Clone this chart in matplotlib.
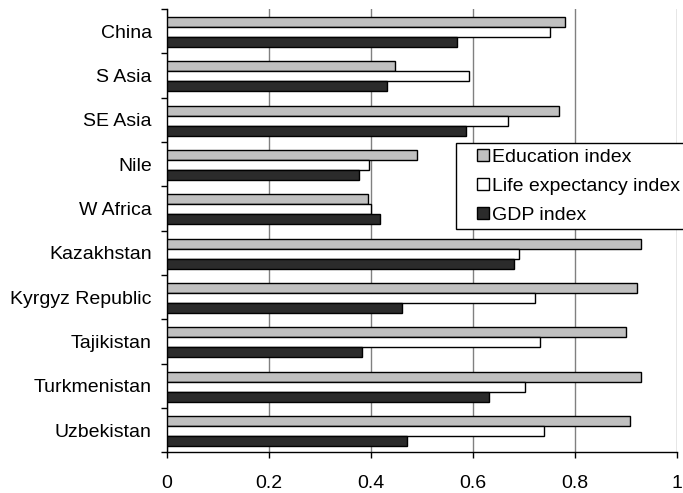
import numpy as np
import matplotlib
matplotlib.use("Agg")
import matplotlib.pyplot as plt
from matplotlib.patches import Rectangle
from matplotlib.legend_handler import HandlerPatch

regions = ["China", "S Asia", "SE Asia", "Nile", "W Africa", "Kazakhstan",
           "Kyrgyz Republic", "Tajikistan", "Turkmenistan", "Uzbekistan"]
education = [0.781, 0.447, 0.769, 0.490, 0.394, 0.930, 0.921, 0.901, 0.930, 0.909]
life_exp = [0.751, 0.592, 0.669, 0.396, 0.400, 0.690, 0.722, 0.731, 0.702, 0.740]
gdp = [0.569, 0.432, 0.587, 0.376, 0.417, 0.681, 0.461, 0.382, 0.631, 0.470]
xticks = [0, 0.2, 0.4, 0.6, 0.8, 1]
xticklabels = ["0", "0.2", "0.4", "0.6", "0.8", "1"]

plt.rcParams["font.family"] = ["Liberation Sans", "DejaVu Sans"]
plt.rcParams["font.size"] = 14


def small_square(legend, orig_handle, xdescent, ydescent, width, height, fontsize):
    # square key pushed to the right end of the handle box
    s = 0.62 * fontsize
    return Rectangle((-xdescent + width - s - 1, -ydescent + (height - s) / 2), s, s)


fig = plt.figure(figsize=(6.83, 4.93), dpi=100)
ax = fig.add_axes([0.2445, 0.0822, 0.7465, 0.8995])

pos = np.arange(len(regions))
h = 0.226
series = [(education, "#c0c0c0", "Education index"),
          (life_exp, "#ffffff", "Life expectancy index"),
          (gdp, "#2b2b2b", "GDP index")]
handles = []
for i, (vals, col, lab) in enumerate(series):
    ax.barh(pos + (i - 1) * h + 0.015, vals, height=h, color=col,
            edgecolor="black", linewidth=1.0, zorder=3)
    handles.append(Rectangle((0, 0), 1, 1, facecolor=col, edgecolor="black",
                             linewidth=1.0, label=lab))

ax.set_xlim(0, 1)
ax.set_ylim(len(regions) - 0.5, -0.5)

ax.set_xticks(xticks)
ax.set_xticklabels(xticklabels)
ax.tick_params(axis="x", direction="out", length=4.5, width=1, pad=11.5)
ax.xaxis.grid(True, color="#808080", linewidth=1.0, zorder=0)

# category boundaries carry the tick marks, centres carry the labels
ax.set_yticks(np.arange(len(regions) + 1) - 0.5)
ax.set_yticklabels([])
ax.set_yticks(pos, minor=True)
ax.set_yticklabels(regions, minor=True)
ax.tick_params(axis="y", which="major", direction="out", length=4.5, width=1)
ax.tick_params(axis="y", which="minor", length=0, pad=11)

for s in ["top", "right"]:
    ax.spines[s].set_visible(False)
ax.spines["left"].set_linewidth(1.0)
ax.spines["bottom"].set_linewidth(1.0)

leg = ax.legend(handles=handles, loc="upper left", bbox_to_anchor=(0.5667, 0.6975),
                frameon=True, fancybox=False, edgecolor="black", framealpha=1,
                handler_map={Rectangle: HandlerPatch(patch_func=small_square)},
                handlelength=1.5, handleheight=0.7, handletextpad=0.1,
                borderpad=0.27, labelspacing=0.58, borderaxespad=0)
leg.get_frame().set_linewidth(1.0)

fig.savefig("out.png", dpi=100)
